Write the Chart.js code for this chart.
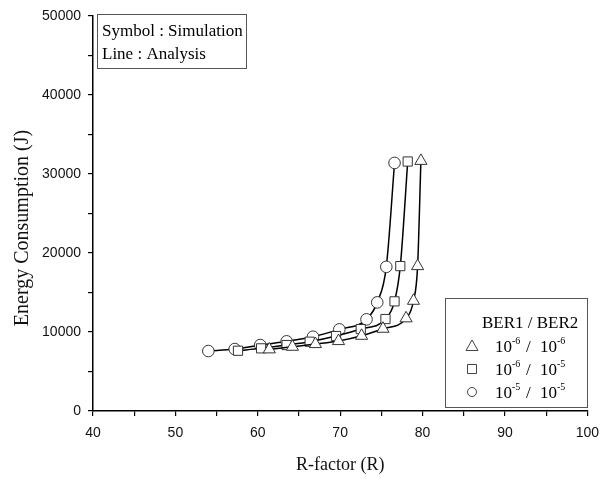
<!DOCTYPE html>
<html>
<head>
<meta charset="utf-8">
<script src="https://cdn.jsdelivr.net/npm/chart.js@4"></script>
<style>
  html, body { margin: 0; padding: 0; background: #fff; }
  #wrap { width: 608px; height: 479px; }
</style>
</head>
<body>
<div id="wrap"><canvas id="myChart" width="608" height="479"></canvas></div>
<script>
// R-factor / energy values
const rTri = [61.4, 64.2, 67.0, 69.8, 72.6, 75.2, 78.0, 78.9, 79.4, 79.8];
const eTri = [7800, 8130, 8470, 8850, 9520, 10410, 11730, 13950, 18340, 31660];
const rSq = [57.6, 60.4, 63.5, 66.3, 69.5, 72.5, 75.5, 76.6, 77.3, 78.2];
const eSq = [7630, 7930, 8350, 8770, 9490, 10370, 11640, 13880, 18340, 31580];
const rCir = [54.0, 57.2, 60.3, 63.5, 66.7, 69.9, 73.2, 74.5, 75.6, 76.6];
const eCir = [7590, 7840, 8350, 8820, 9400, 10330, 11600, 13750, 18250, 31400];

const pointStyles = ["triangle", "rect", "circle"];
const ber1 = ["-6", "-6", "-5"];
const ber2 = ["-6", "-5", "-5"];
const noteLines = ["Symbol : Simulation", "Line : Analysis"];
const yTitle = "Energy Consumption (J)";

const serif = "'Liberation Serif', 'Times New Roman', serif";
const sans = "'Liberation Sans', Arial, sans-serif";

// marker radius per style (chart.js sizes each shape differently)
const markerSize = { triangle: 7, rect: 6.5, circle: 5.8 };

function toPts(xs, ys) {
    return xs.map((x, i) => ({ x: x, y: ys[i] }));
}

function series(xs, ys, style) {
    return {
        data: toPts(xs, ys),
        borderColor: "#000",
        borderWidth: 1.5,
        pointStyle: style,
        pointRadius: markerSize[style],
        pointBackgroundColor: "#fff",
        pointBorderColor: "#333",
        pointBorderWidth: 1,
        cubicInterpolationMode: "monotone",
        fill: false,
    };
}

// y title plus the two boxed notes (top-left text box, bottom-right legend)
const boxes = {
    id: "boxes",
    afterDraw(chart) {
        const ctx = chart.ctx;
        ctx.save();

        // y axis title, drawn a bit below the axis middle like the original
        ctx.save();
        ctx.translate(23, 228);
        ctx.rotate(-Math.PI / 2);
        ctx.fillStyle = "#111";
        ctx.font = "20px " + serif;
        ctx.textAlign = "center";
        ctx.textBaseline = "middle";
        ctx.fillText(yTitle, 0, 0);
        ctx.restore();

        ctx.strokeStyle = "#555";
        ctx.lineWidth = 1;
        ctx.fillStyle = "#fff";

        // note box
        ctx.fillRect(97, 14, 149, 54);
        ctx.strokeRect(97.5, 14.5, 149, 54);
        ctx.fillStyle = "#000";
        ctx.font = "17px " + serif;
        ctx.textBaseline = "alphabetic";
        ctx.textAlign = "left";
        ctx.fillText(noteLines[0], 102, 36);
        ctx.fillText(noteLines[1], 102, 59);

        // legend box
        ctx.fillStyle = "#fff";
        ctx.fillRect(445, 298, 142, 109);
        ctx.strokeRect(445.5, 298.5, 142, 109);
        ctx.fillStyle = "#000";
        ctx.font = "17px " + serif;
        ctx.fillText("BER1 / BER2", 482, 328);

        for (let i = 0; i < 3; i++) {
            const cy = 346 + i * 23;
            const cx = 472;
            ctx.strokeStyle = "#444";
            ctx.beginPath();
            if (pointStyles[i] === "triangle") {
                ctx.moveTo(cx, cy - 6);
                ctx.lineTo(cx + 6, cy + 4.5);
                ctx.lineTo(cx - 6, cy + 4.5);
                ctx.closePath();
            } else if (pointStyles[i] === "rect") {
                ctx.rect(cx - 4.5, cy - 4.5, 9, 9);
            } else {
                ctx.arc(cx, cy, 4.5, 0, Math.PI * 2);
            }
            ctx.stroke();

            const base = cy + 6;
            ctx.font = "17px " + serif;
            ctx.fillText("10", 495, base);
            ctx.fillText("/", 526, base);
            ctx.fillText("10", 540, base);
            ctx.font = "10px " + serif;
            ctx.fillText(ber1[i], 512, base - 8);
            ctx.fillText(ber2[i], 557, base - 8);
        }
        ctx.restore();
    },
};

new Chart("myChart", {
    type: "line",
    data: {
        datasets: [
            series(rTri, eTri, pointStyles[0]),
            series(rSq, eSq, pointStyles[1]),
            series(rCir, eCir, pointStyles[2]),
        ],
    },
    options: {
        responsive: false,
        animation: false,
        layout: { padding: { top: 16, right: 20, left: 0, bottom: 0 } },
        plugins: {
            legend: { display: false },
            tooltip: { enabled: false },
        },
        scales: {
            x: {
                type: "linear",
                min: 40,
                max: 100,
                afterFit(scale) { scale.height = 68; },
                border: { color: "#000", width: 1.5 },
                grid: { drawOnChartArea: false, color: "#000", tickLength: 5, lineWidth: 1.2 },
                ticks: {
                    stepSize: 5,
                    autoSkip: false,
                    maxRotation: 0,
                    padding: 9,
                    color: "#111",
                    font: { family: sans, size: 14 },
                    callback: (v) => (v % 10 === 0 ? v : ""),
                },
                title: {
                    display: true,
                    text: "R-factor (R)",
                    color: "#111",
                    font: { family: serif, size: 18 },
                    padding: { top: 0, bottom: 3 },
                },
            },
            y: {
                min: 0,
                max: 50000,
                afterFit(scale) { scale.width = 93; },
                border: { color: "#000", width: 1.5 },
                grid: { drawOnChartArea: false, color: "#000", tickLength: 5, lineWidth: 1.2 },
                ticks: {
                    stepSize: 5000,
                    autoSkip: false,
                    padding: 7,
                    color: "#111",
                    font: { family: sans, size: 14 },
                    callback: (v) => (v % 10000 === 0 ? v : ""),
                },
            },
        },
    },
    plugins: [boxes],
});
</script>
</body>
</html>
